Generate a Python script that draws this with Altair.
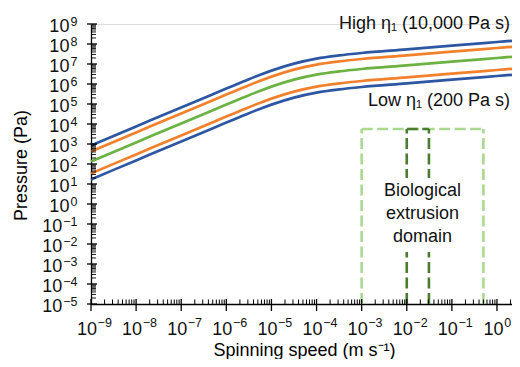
import altair as alt
import pandas as pd

# ---------------- data ----------------
speed = [1e-9, 1e-8, 1e-7, 1e-6, 10**-5.5, 1e-5, 10**-4.5, 1e-4, 10**-3.5,
         1e-3, 1e-2, 1e-1, 1.0, 10**0.333]
# log10(pressure / Pa) for the five viscosities (top to bottom)
logp_high = [2.93, 3.88, 4.83, 5.77, 6.24, 6.67, 7.02, 7.27, 7.43, 7.55, 7.73, 7.92, 8.10, 8.16]
logp_2 = [2.63, 3.58, 4.53, 5.47, 5.94, 6.37, 6.72, 6.97, 7.13, 7.25, 7.43, 7.62, 7.80, 7.86]
logp_3 = [2.13, 3.08, 4.03, 4.97, 5.44, 5.87, 6.22, 6.47, 6.63, 6.75, 6.93, 7.12, 7.30, 7.36]
logp_4 = [1.53, 2.48, 3.43, 4.37, 4.84, 5.27, 5.62, 5.87, 6.03, 6.15, 6.33, 6.52, 6.70, 6.76]
logp_low = [1.23, 2.18, 3.13, 4.07, 4.54, 4.97, 5.32, 5.57, 5.73, 5.85, 6.03, 6.22, 6.40, 6.46]
curve_names = ["c1", "c2", "c3", "c4", "c5"]
curve_colors = ["#2d56a3", "#f2812e", "#6cb243", "#f2812e", "#2d56a3"]

# biological extrusion domain (dashed boxes)
bio_x = [1e-3, 0.5]
bio_narrow_x = [1e-2, 0.031]
bio_top = 10**3.75
bio_bottom = 1e-5
bio_text = "Biological\nextrusion\ndomain"
bio_text_pos = (0.0224, 10**0.63)
bio_text_bg_x = [10**-2.48, 10**-0.58]
bio_text_bg_y = [10**-2.4, 10**1.3]

labels_text = ["High η₁ (10,000 Pa s)", "Low η₁ (200 Pa s)"]
labels_x = [10**0.29, 10**0.29]
labels_y = [10**8.75, 10**4.88]

x_exps = list(range(-9, 1))
y_exps = list(range(-5, 10))
x_domain = [1e-9, 10**0.333]
y_domain = [1e-5, 1e9]

# ---------------- tables ----------------
rows = []
for name, vals in zip(curve_names, [logp_high, logp_2, logp_3, logp_4, logp_low]):
    for s, v in zip(speed, vals):
        rows.append({"curve": name, "speed": s, "pressure": 10**v})
curves = pd.DataFrame(rows)


def box_df(xs):
    return pd.DataFrame([
        {"x": xs[0], "x2": xs[0], "y": bio_bottom, "y2": bio_top},
        {"x": xs[1], "x2": xs[1], "y": bio_bottom, "y2": bio_top},
        {"x": xs[0], "x2": xs[1], "y": bio_top, "y2": bio_top},
    ])


FONT = "Liberation Sans"
W, H = 421, 280
xs = alt.Scale(type="log", domain=x_domain, nice=False)
ys = alt.Scale(type="log", domain=y_domain, nice=False)
ax_x = alt.Axis(labels=False, ticks=False, grid=False, domain=True, domainColor="#000",
                domainWidth=1.3, title="Spinning speed (m s⁻¹)", titleFont=FONT,
                titleFontSize=18, titleFontWeight="normal", titleColor="#000",
                titleBaseline="alphabetic", titleY=51, titleX=213, titleAlign="center")
ax_y = alt.Axis(labels=False, ticks=False, grid=False, domain=True, domainColor="#000",
                domainWidth=1.3, title="Pressure (Pa)", titleFont=FONT,
                titleFontSize=18, titleFontWeight="normal", titleColor="#000",
                titleAngle=270, titleBaseline="alphabetic", titleX=-65, titleY=141,
                titleAlign="center")


def X(f="x"):
    return alt.X(f"{f}:Q", scale=xs, axis=ax_x)


def Y(f="y"):
    return alt.Y(f"{f}:Q", scale=ys, axis=ax_y)


light = alt.Chart(box_df(bio_x)).mark_rule(
    color="#a9d98f", strokeWidth=2.6, strokeDash=[11, 4.5], strokeCap="butt"
).encode(x=X(), x2="x2:Q", y=Y(), y2="y2:Q")
dark = alt.Chart(box_df(bio_narrow_x)).mark_rule(
    color="#4b7d31", strokeWidth=2.6, strokeDash=[11, 4.5], strokeCap="butt"
).encode(x=X(), x2="x2:Q", y=Y(), y2="y2:Q")

bg = alt.Chart(pd.DataFrame({"x": [bio_text_bg_x[0]], "x2": [bio_text_bg_x[1]],
                             "y": [bio_text_bg_y[0]], "y2": [bio_text_bg_y[1]]})).mark_rect(
    color="white").encode(x=X(), x2="x2:Q", y=Y(), y2="y2:Q")

lines = alt.Chart(curves).mark_line(strokeWidth=2.7, interpolate="monotone").encode(
    x=X("speed"), y=Y("pressure"),
    color=alt.Color("curve:N", scale=alt.Scale(domain=curve_names, range=curve_colors), legend=None),
)

bio = alt.Chart(pd.DataFrame({"x": [bio_text_pos[0]], "y": [bio_text_pos[1]], "t": [bio_text]})).mark_text(
    font=FONT, fontSize=18, lineBreak="\n", lineHeight=22.7, align="center", baseline="middle", color="#111"
).encode(x=X(), y=Y(), text="t:N")

lab = alt.Chart(pd.DataFrame({"x": labels_x, "y": labels_y, "t": labels_text})).mark_text(
    font=FONT, fontSize=18, align="right", baseline="alphabetic", color="#111"
).encode(x=X(), y=Y(), text="t:N")

# ticks
x_major = pd.DataFrame({"x": [10.0**e for e in x_exps]})
x_minor = pd.DataFrame({"x": [k * 10.0**e for e in x_exps for k in range(2, 10)
                              if k * 10.0**e <= x_domain[1]]})
y_major = pd.DataFrame({"y": [10.0**e for e in y_exps]})
y_minor = pd.DataFrame({"y": [k * 10.0**e for e in y_exps[:-1] for k in range(2, 10)]})

xt_major = alt.Chart(x_major).mark_rule(color="#000", strokeWidth=1.3).encode(
    x=X(), y=alt.value(H - 5), y2=alt.value(H + 7))
xt_minor = alt.Chart(x_minor).mark_rule(color="#000", strokeWidth=1).encode(
    x=X(), y=alt.value(H - 4.5), y2=alt.value(H))
yt_major = alt.Chart(y_major).mark_rule(color="#000", strokeWidth=1.3).encode(
    y=Y(), x=alt.value(-4), x2=alt.value(6))
yt_minor = alt.Chart(y_minor).mark_rule(color="#000", strokeWidth=0.9).encode(
    y=Y(), x=alt.value(0), x2=alt.value(5))

# tick labels: "10" with a superscript exponent
xl = pd.DataFrame({"x": [10.0**e for e in x_exps],
                   "exp": [str(e).replace("-", "\u2212") for e in x_exps], "neg": [e < 0 for e in x_exps]})
yl = pd.DataFrame({"y": [10.0**e for e in y_exps],
                   "exp": [str(e).replace("-", "\u2212") for e in y_exps], "neg": [e < 0 for e in y_exps]})

tb = dict(font=FONT, color="#111", baseline="alphabetic")
xl_layers = []
for neg, d10, dexp in [(True, 6.0, 6.6), (False, 6.6, 7.2)]:
    src = alt.Chart(xl).transform_filter(alt.datum.neg == neg)
    xl_layers.append(src.mark_text(fontSize=18, align="right", dx=d10, dy=30.5, **tb).encode(
        x=X(), y=alt.value(H), text=alt.value("10")))
    xl_layers.append(src.mark_text(fontSize=12.5, align="left", dx=dexp, dy=22.5, **tb).encode(
        x=X(), y=alt.value(H), text="exp:N"))

yl_layers = []
for neg, d10 in [(True, -28.8), (False, -21.6)]:
    src = alt.Chart(yl).transform_filter(alt.datum.neg == neg)
    yl_layers.append(src.mark_text(fontSize=18, align="right", dx=d10, dy=8, **tb).encode(
        y=Y(), x=alt.value(0), text=alt.value("10")))
yl_layers.append(alt.Chart(yl).mark_text(fontSize=12.5, align="right", dx=-13.6, dy=2.2, **tb).encode(
    y=Y(), x=alt.value(0), text="exp:N"))

chart = alt.layer(
    light, dark, bg, lines, bio, lab, xt_minor, xt_major, yt_minor, yt_major, *xl_layers, *yl_layers
).properties(
    width=W, height=H,
    autosize=alt.AutoSizeParams(type="none"),
    padding={"left": 83, "top": 16, "right": 0, "bottom": 55},
).configure_view(stroke=None).configure(background="white")

chart.save("out.html", embed_options={"renderer": "svg", "actions": False})
